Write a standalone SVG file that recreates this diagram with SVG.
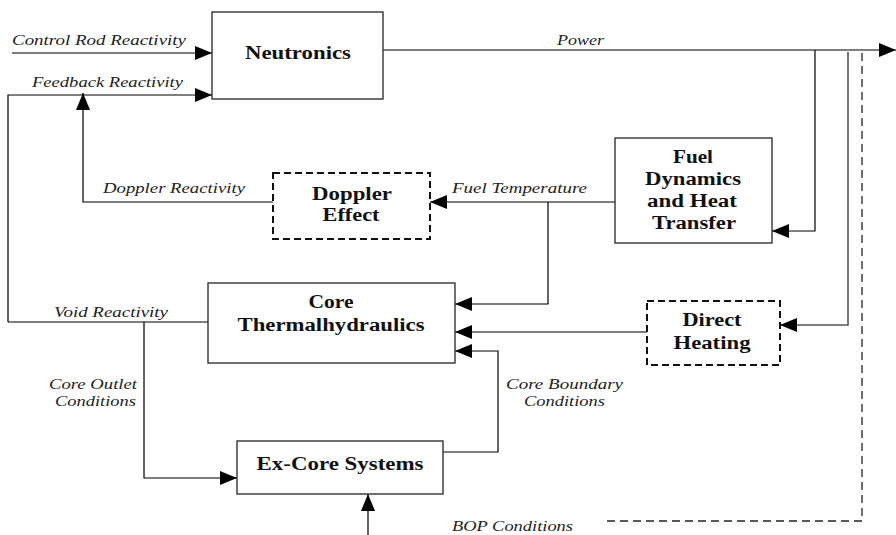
<svg xmlns="http://www.w3.org/2000/svg" width="896" height="535" viewBox="0 0 896 535">
<style>
.box{fill:#fff;stroke:#333;stroke-width:1.4}
.dbox{fill:#fff;stroke:#111;stroke-width:2;stroke-dasharray:7,4}
.ln{fill:none;stroke:#000;stroke-width:1.2}
.dl{fill:none;stroke:#222;stroke-width:1.3;stroke-dasharray:8,5}
.nt{font-family:"Liberation Serif",serif;font-weight:bold;font-size:18px;fill:#111;text-anchor:middle}
.lb{font-family:"Liberation Serif",serif;font-style:italic;font-size:14px;fill:#222}
</style>
<defs>
<marker id="ah" markerUnits="userSpaceOnUse" markerWidth="18" markerHeight="14" refX="17" refY="7" orient="auto">
<path d="M0,0 L17,7 L0,14 Z" fill="#000"/>
</marker>
</defs>
<g id="connectors">
<path class="ln" d="M12,53 H212" marker-end="url(#ah)"/>
<path class="ln" d="M8,322 V95 H212" marker-end="url(#ah)"/>
<path class="ln" d="M273,202 H83 V93" marker-end="url(#ah)"/>
<path class="ln" d="M615,202 H430" marker-end="url(#ah)"/>
<path class="ln" d="M383,50 H896" marker-end="url(#ah)"/>
<path class="ln" d="M815,50 V231 H772" marker-end="url(#ah)"/>
<path d="M848,52 V325 H780" fill="none" stroke="#555" stroke-width="1.6" marker-end="url(#ah)"/>
<path class="dl" d="M862,53 V521 H605"/>
<path class="ln" d="M548,202 V304 H455" marker-end="url(#ah)"/>
<path class="ln" d="M647,332 H455" marker-end="url(#ah)"/>
<path class="ln" d="M443,452 H498 V351 H455" marker-end="url(#ah)"/>
<path class="ln" d="M8,322 H208"/>
<path class="ln" d="M144,322 V478 H237" marker-end="url(#ah)"/>
<path class="ln" d="M368,535 V494" marker-end="url(#ah)"/>
</g>
<g id="labels">
<text class="lb" x="12" y="45" textLength="174" lengthAdjust="spacingAndGlyphs">Control Rod Reactivity</text>
<text class="lb" x="32" y="87" textLength="151" lengthAdjust="spacingAndGlyphs">Feedback Reactivity</text>
<text class="lb" x="557" y="45" textLength="47" lengthAdjust="spacingAndGlyphs">Power</text>
<text class="lb" x="103" y="193" textLength="142" lengthAdjust="spacingAndGlyphs">Doppler Reactivity</text>
<text class="lb" x="452" y="193" textLength="135" lengthAdjust="spacingAndGlyphs">Fuel Temperature</text>
<text class="lb" x="54" y="317" textLength="114" lengthAdjust="spacingAndGlyphs">Void Reactivity</text>
<text class="lb" x="49" y="389" textLength="88" lengthAdjust="spacingAndGlyphs">Core Outlet</text>
<text class="lb" x="55" y="406" textLength="81" lengthAdjust="spacingAndGlyphs">Conditions</text>
<text class="lb" x="506" y="389" textLength="117" lengthAdjust="spacingAndGlyphs">Core Boundary</text>
<text class="lb" x="524" y="406" textLength="81" lengthAdjust="spacingAndGlyphs">Conditions</text>
<text class="lb" x="452" y="531" textLength="121" lengthAdjust="spacingAndGlyphs">BOP Conditions</text>
</g>
<g id="neutronics">
<rect class="box" x="212" y="12" width="171" height="87"/>
<text class="nt" x="298" y="59" textLength="106" lengthAdjust="spacingAndGlyphs">Neutronics</text>
</g>
<g id="doppler">
<rect class="dbox" x="273" y="173" width="157" height="66"/>
<text class="nt" x="352" y="200" textLength="80" lengthAdjust="spacingAndGlyphs">Doppler</text>
<text class="nt" x="351" y="221" textLength="57" lengthAdjust="spacingAndGlyphs">Effect</text>
</g>
<g id="fuel">
<rect class="box" x="615" y="138" width="157" height="105"/>
<text class="nt" x="693" y="163" textLength="40" lengthAdjust="spacingAndGlyphs">Fuel</text>
<text class="nt" x="693" y="185" textLength="96" lengthAdjust="spacingAndGlyphs">Dynamics</text>
<text class="nt" x="692" y="207" textLength="90" lengthAdjust="spacingAndGlyphs">and Heat</text>
<text class="nt" x="694" y="229" textLength="84" lengthAdjust="spacingAndGlyphs">Transfer</text>
</g>
<g id="core">
<rect class="box" x="208" y="283" width="247" height="80"/>
<text class="nt" x="331" y="308" textLength="45" lengthAdjust="spacingAndGlyphs">Core</text>
<text class="nt" x="331" y="331" textLength="187" lengthAdjust="spacingAndGlyphs">Thermalhydraulics</text>
</g>
<g id="direct">
<rect class="dbox" x="647" y="301" width="133" height="64"/>
<text class="nt" x="712" y="326" textLength="59" lengthAdjust="spacingAndGlyphs">Direct</text>
<text class="nt" x="712" y="349" textLength="77" lengthAdjust="spacingAndGlyphs">Heating</text>
</g>
<g id="excore">
<rect class="box" x="237" y="441" width="206" height="53"/>
<text class="nt" x="340" y="470" textLength="167" lengthAdjust="spacingAndGlyphs">Ex-Core Systems</text>
</g>
</svg>
